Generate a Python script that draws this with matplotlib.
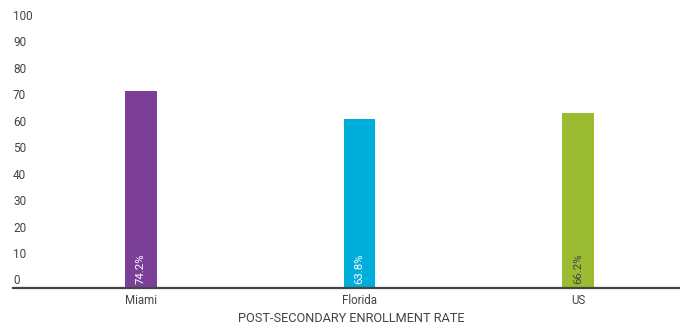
import matplotlib
matplotlib.use("Agg")
import matplotlib.pyplot as plt
from matplotlib import transforms

plt.rcParams['font.family'] = ['Roboto', 'DejaVu Sans']

categories = ["Miami", "Florida", "US"]
values = [74.2, 63.8, 66.2]
bar_colors = ["#7B3F98", "#00AEDB", "#9BBB32"]
label_colors = ["white", "white", "#444444"]
y_ticks = [0, 10, 20, 30, 40, 50, 60, 70, 80, 90, 100]
x_title = "POST-SECONDARY ENROLLMENT RATE"

W, H = 680, 326
fig = plt.figure(figsize=(W / 100, H / 100), dpi=100)
ax = fig.add_axes([13 / W, (H - 288) / H, 1 - 13 / W, 288 / H])

x = list(range(len(categories)))
ax.bar(x, values, width=0.146, color=bar_colors, zorder=2)
ax.set_xlim(-0.586, 2.467)
ax.set_ylim(0, 108.7)

for s in ["top", "right", "left"]:
    ax.spines[s].set_visible(False)
ax.spines["bottom"].set_color("#444444")
ax.spines["bottom"].set_linewidth(1.6)
ax.set_yticks([])
ax.set_xticks(x)
ax.set_xticklabels(categories, fontsize=8.3, color="#444444")
ax.tick_params(axis="x", length=0, pad=4)

# y tick labels sit just above their value
off = transforms.ScaledTranslation(0, 0.5 / 100, fig.dpi_scale_trans)
for t in y_ticks:
    ax.text(0, t, str(t), transform=ax.get_yaxis_transform() + off,
            ha="left", va="bottom", fontsize=8.5, color="#444444")

# value labels inside bars, rotated
off2 = transforms.ScaledTranslation(0, 4 / 100, fig.dpi_scale_trans)
for xi, v, c in zip(x, values, label_colors):
    ax.text(xi, 0, f"{v}%", transform=ax.transData + off2, rotation=90,
            ha="center", va="bottom", fontsize=8.2, color=c, zorder=3)

fig.text(351 / W, 1 - 319 / H, x_title, ha="center", va="center",
         fontsize=9.2, color="#444444")

fig.savefig("out.png", dpi=100)
